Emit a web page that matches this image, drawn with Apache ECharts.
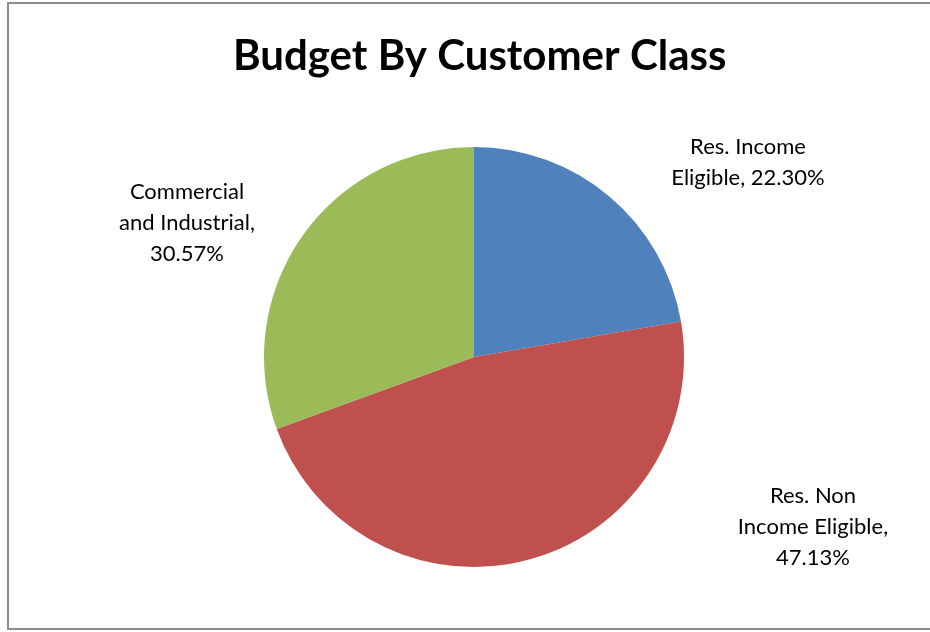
<!DOCTYPE html>
<html>
<head>
<meta charset="utf-8">
<script src="https://cdn.jsdelivr.net/npm/echarts@6/dist/echarts.min.js"></script>
<style>
  html, body { margin: 0; padding: 0; background: #fff; }
  #chart { width: 930px; height: 632px; }
</style>
</head>
<body>
<div id="chart"></div>
<script>
// Budget share by customer class
const categories = ['Res. Income\nEligible', 'Res. Non\nIncome Eligible', 'Commercial\nand Industrial'];
const shares = [22.30, 47.13, 30.57];
const colors = ['#4F81BD', '#C0504D', '#9BBB59'];

// Label anchor points (centre of each text block)
const labelSpots = [[748, 162], [813, 527], [187, 223]];

const chart = echarts.init(document.getElementById('chart'));
const font = 'Lato, "Open Sans", sans-serif';

chart.setOption({
  animation: false,
  backgroundColor: '#fff',
  title: {
    text: 'Budget By Customer Class',
    left: 228,
    top: 30,
    textStyle: { fontFamily: font, fontWeight: 'bold', fontSize: 42, color: '#000' }
  },
  graphic: [{
    type: 'rect',
    shape: { x: 8, y: 3, width: 940, height: 626 },
    style: { fill: 'none', stroke: '#8c8c8c', lineWidth: 2 },
    silent: true
  }],
  series: [{
    type: 'pie',
    center: [474, 357],
    radius: 210,
    startAngle: 90,
    clockwise: true,
    data: categories.map((name, i) => ({
      name: name,
      value: shares[i],
      itemStyle: { color: colors[i] }
    })),
    label: {
      show: true,
      position: 'outside',
      fontFamily: font,
      fontSize: 22,
      lineHeight: 31,
      color: '#000',
      align: 'center',
      formatter: p => {
        const idx = p.dataIndex;
        const val = shares[idx].toFixed(2) + '%';
        if (idx === 0) return 'Res. Income\nEligible, ' + val;
        return p.name + ',\n' + val;
      }
    },
    labelLine: { show: false },
    labelLayout: params => ({
      x: labelSpots[params.dataIndex][0],
      y: labelSpots[params.dataIndex][1],
      align: 'center',
      verticalAlign: 'middle'
    }),
    emphasis: { disabled: true }
  }]
});
</script>
</body>
</html>
